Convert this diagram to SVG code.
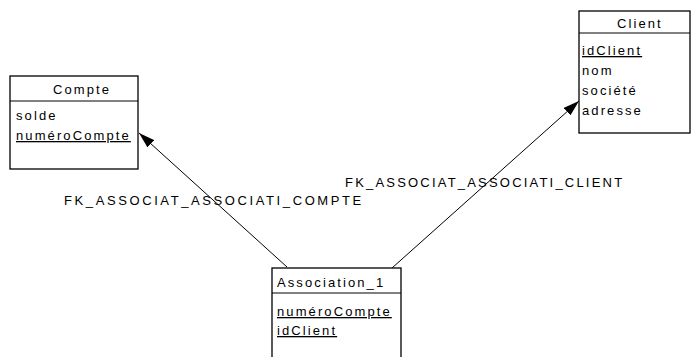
<svg xmlns="http://www.w3.org/2000/svg" width="691" height="357" viewBox="0 0 691 357">
<style>
text{font-family:"Liberation Sans",Arial,sans-serif;font-size:13px;fill:#000;letter-spacing:2.1px}
.box{fill:#fff;stroke:#000;stroke-width:1.3}
.div{stroke:#000;stroke-width:1}
.u{text-decoration:underline}
.lbl{letter-spacing:2.6px}
.conn{stroke:#000;stroke-width:1;fill:none}
</style>
<defs>
<marker id="arr" viewBox="0 0 16 10" refX="16" refY="5" markerWidth="16" markerHeight="10" markerUnits="userSpaceOnUse" orient="auto">
<path d="M0,0 L16,5 L0,10 Z" fill="#000"/>
</marker>
</defs>
<rect width="691" height="357" fill="#fff"/>
<g id="connectors">
<line class="conn" x1="287" y1="267" x2="139" y2="133" marker-end="url(#arr)"/>
<line class="conn" x1="392" y1="268" x2="579" y2="101" marker-end="url(#arr)"/>
<text class="lbl" x="64" y="205">FK_ASSOCIAT_ASSOCIATI_COMPTE</text>
<text class="lbl" x="345" y="187" style="letter-spacing:2.2px">FK_ASSOCIAT_ASSOCIATI_CLIENT</text>
</g>
<g id="Compte">
<rect class="box" x="10" y="76" width="128" height="93"/>
<line class="div" x1="10" y1="101" x2="138" y2="101"/>
<text x="53" y="94">Compte</text>
<text x="16" y="120">solde</text>
<text class="u" x="16" y="140">numéroCompte</text>
</g>
<g id="Client">
<rect class="box" x="579" y="11" width="111" height="122"/>
<line class="div" x1="579" y1="33" x2="690" y2="33"/>
<text x="617" y="28">Client</text>
<text class="u" x="582" y="55">idClient</text>
<text x="582" y="75">nom</text>
<text x="582" y="95">société</text>
<text x="582" y="115">adresse</text>
</g>
<g id="Association_1">
<rect class="box" x="272" y="268" width="129" height="100"/>
<line class="div" x1="272" y1="293" x2="401" y2="293"/>
<text x="277" y="287">Association_1</text>
<text class="u" x="277" y="316">numéroCompte</text>
<text class="u" x="277" y="335">idClient</text>
</g>
</svg>
